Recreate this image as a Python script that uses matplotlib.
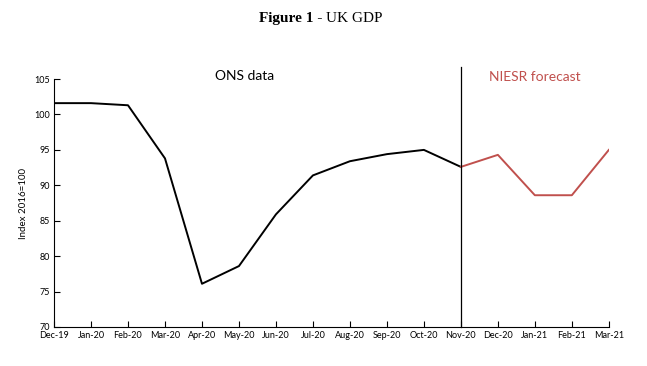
import matplotlib.pyplot as plt

# data
months = ['Dec-19', 'Jan-20', 'Feb-20', 'Mar-20', 'Apr-20', 'May-20', 'Jun-20', 'Jul-20',
          'Aug-20', 'Sep-20', 'Oct-20', 'Nov-20', 'Dec-20', 'Jan-21', 'Feb-21', 'Mar-21']
ons = [101.6, 101.6, 101.3, 93.8, 76.1, 78.6, 85.9, 91.4, 93.4, 94.4, 95.0, 92.6]
niesr = [92.6, 94.3, 88.6, 88.6, 95.0]
yticks = [70, 75, 80, 85, 90, 95, 100, 105]

plt.rcParams['font.family'] = ['Lato', 'DejaVu Sans']

fig = plt.figure(figsize=(6.47, 3.66), dpi=100)
ax = fig.add_axes([0.0835, 0.1066, 0.8575, 0.6774])

x_ons = list(range(len(ons)))
x_niesr = list(range(len(ons) - 1, len(ons) - 1 + len(niesr)))
ax.plot(x_ons, ons, color='black', lw=1.4)
ax.plot(x_niesr, niesr, color='#c0504d', lw=1.4)

# divider between ONS data and forecast
ax.plot([len(ons) - 1, len(ons) - 1], [70, 106.7], color='black', lw=0.9, clip_on=False)

ax.set_xlim(0, len(months) - 1)
ax.set_ylim(70, 105)
ax.set_xticks(range(len(months)))
ax.set_xticklabels(months, fontsize=6.5)
ax.set_yticks(yticks)
ax.set_yticklabels([str(v) for v in yticks], fontsize=6.5)
ax.tick_params(direction='in', length=4, width=0.8, pad=3)
ax.spines['top'].set_visible(False)
ax.spines['right'].set_visible(False)
ax.set_ylabel('Index 2016=100', fontsize=7, labelpad=4.5)

ax.text(5.15, 105.5, 'ONS data', fontsize=10, ha='center', va='center')
ax.text(13, 105.3, 'NIESR forecast', fontsize=10, ha='center', va='center', color='#c0504d')

fig.text(322 / 647, 0.95, 'Figure 1 -', fontsize=11, ha='right', va='center',
         family='Liberation Serif', weight='bold')
fig.text(326 / 647, 0.95, 'UK GDP', fontsize=11, ha='left', va='center',
         family='Liberation Serif')

fig.savefig('out.png', dpi=100)
